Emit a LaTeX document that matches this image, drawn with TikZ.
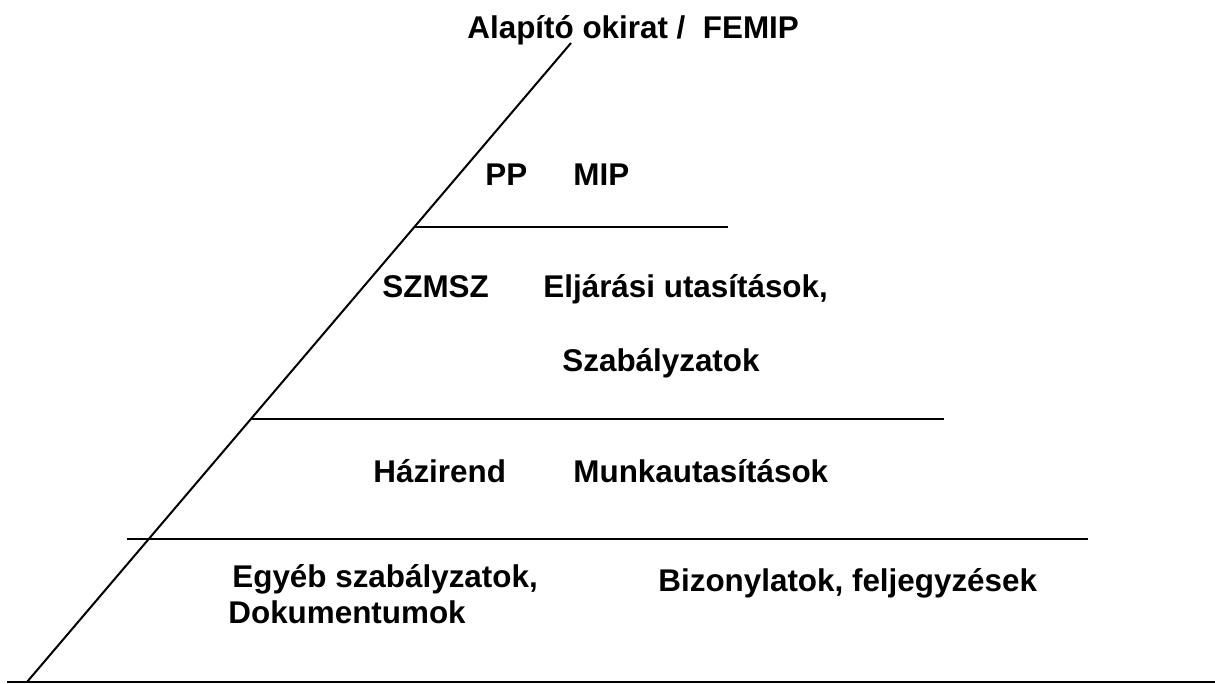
\documentclass[tikz,border=0pt]{standalone}
\usepackage{fontspec}
\setmainfont{Liberation Sans}
\usetikzlibrary{calc}
\tikzstyle{szint} = [anchor=base west, inner sep=0pt, font=\bfseries\fontsize{15.7}{19}\selectfont]
\tikzstyle{vonal} = [line width=1pt]

\begin{document}
\begin{tikzpicture}[x=0.5pt, y=-0.5pt]
        \useasboundingbox (0,0) rectangle (1215,684);

        % piramis oldala
        \coordinate (csucs) at (571,43);
        \coordinate (talp) at (27,682);
        \draw[vonal] (talp) -- (csucs);

        % szintek
        \draw[vonal] (415,227) -- (728,227);
        \draw[vonal] (251,419) -- (944,419);
        \draw[vonal] (127,539) -- (1088,539);
        \draw[vonal] (7,682) -- (1215,682);

        \node[szint] (alapito) at (467,39) {Alapító okirat /\ \ FEMIP};
        \node[szint] (pp) at (485,186) {PP};
        \node[szint] (mip) at (573,186) {MIP};
        \node[szint] (szmsz) at (382,298) {SZMSZ};
        \node[szint] (eljaras) at (543,298) {Eljárási utasítások,};
        \node[szint] (szab) at (562,371) {Szabályzatok};
        \node[szint] (hazirend) at (373,482) {Házirend};
        \node[szint] (munka) at (573,482) {Munkautasítások};
        \node[szint] (egyeb) at (232,587) {Egyéb szabályzatok,};
        \node[szint] (dok) at (228,623) {Dokumentumok};
        \node[szint] (bizony) at (658,591) {Bizonylatok, feljegyzések};

    \end{tikzpicture}
\end{document}
